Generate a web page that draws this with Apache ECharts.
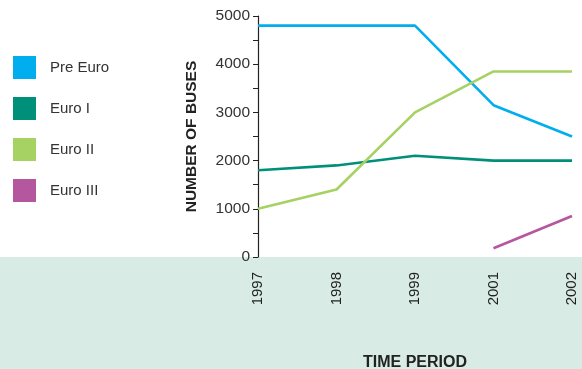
<!DOCTYPE html>
<html>
<head>
<meta charset="utf-8">
<script src="https://cdn.jsdelivr.net/npm/echarts@6/dist/echarts.min.js"></script>
<style>
html,body{margin:0;padding:0;background:#fff;}
#chart{width:582px;height:369px;}
</style>
</head>
<body>
<div id="chart"></div>
<script>
// Bus fleet by emission standard
const years = ['1997', '1998', '1999', '2001', '2002'];
const preEuro = [4800, 4800, 4800, 3150, 2500];
const euroI = [1800, 1900, 2100, 2000, 2000];
const euroII = [1000, 1400, 3000, 3850, 3850];
const euroIII = [null, null, null, 180, 850];
const yTicks = [0, 1000, 2000, 3000, 4000, 5000];

const font = 'Liberation Sans, Arial, sans-serif';
const chart = echarts.init(document.getElementById('chart'));

function line(name, data, color) {
  return {
    name, type: 'line', data,
    symbol: 'none',
    lineStyle: { color, width: 2.6 },
    itemStyle: { color },
    connectNulls: false
  };
}

chart.setOption({
  animation: false,
  graphic: [{
    type: 'rect', z: -10,
    shape: { x: 0, y: 257, width: 582, height: 112 },
    style: { fill: '#d8ece5' }
  }],
  legend: {
    orient: 'vertical', left: 13, top: 56, padding: 0,
    itemWidth: 23, itemHeight: 23, itemGap: 18,
    icon: 'rect',
    textStyle: { fontFamily: font, fontSize: 15, color: '#333', padding: [0, 0, 0, 9] },
    data: ['Pre Euro', 'Euro I', 'Euro II', 'Euro III']
  },
  grid: { left: 258, right: 10, top: 16, bottom: 112, outerBoundsMode: 'none', containLabel: false },
  xAxis: {
    type: 'category', data: years, boundaryGap: false,
    axisLine: { show: false }, axisTick: { show: false },
    axisLabel: { rotate: 90, margin: 15, fontFamily: font, fontSize: 15, color: '#222' },
    name: 'TIME PERIOD', nameLocation: 'middle', nameGap: 98,
    nameTextStyle: { fontFamily: font, fontSize: 16, fontWeight: 'bold', color: '#222' }
  },
  yAxis: {
    type: 'value', min: 0, max: 5000, interval: 500,
    axisLine: { show: true, lineStyle: { color: '#222', width: 1.2 } },
    axisTick: { show: true, length: 5, lineStyle: { color: '#222' } },
    splitLine: { show: false },
    axisLabel: {
      margin: 8, fontFamily: font, fontSize: 15.5, color: '#333',
      formatter: v => yTicks.includes(v) ? String(v) : ''
    },
    name: 'NUMBER OF BUSES', nameLocation: 'middle', nameGap: 58,
    nameTextStyle: { fontFamily: font, fontSize: 15.5, fontWeight: 'bold', color: '#222' }
  },
  series: [
    line('Pre Euro', preEuro, '#00aeef'),
    line('Euro I', euroI, '#00907a'),
    line('Euro II', euroII, '#a6d163'),
    line('Euro III', euroIII, '#b5579f')
  ]
});
</script>
</body>
</html>
